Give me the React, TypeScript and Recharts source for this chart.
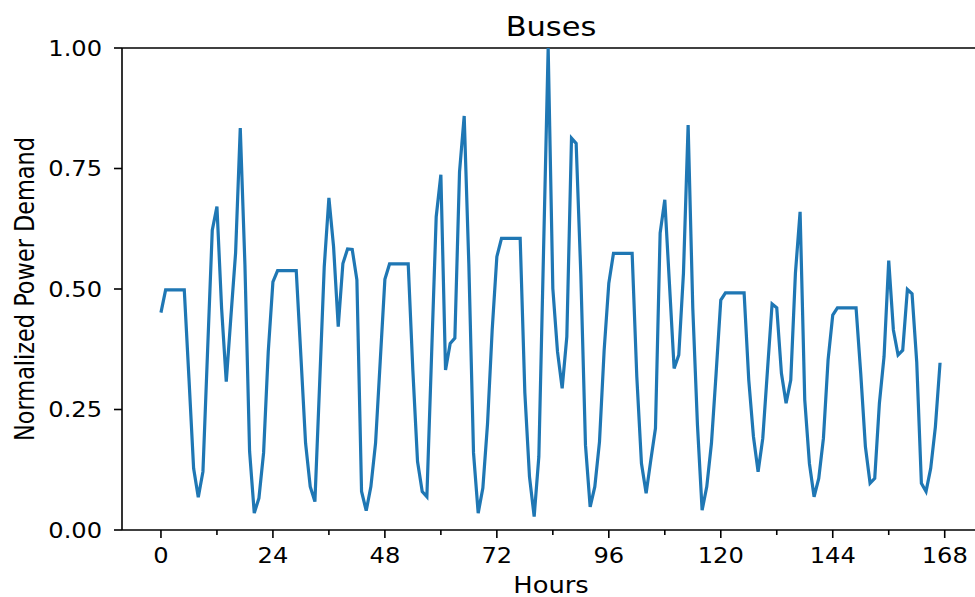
import React from 'react';
import { LineChart, Line, XAxis, YAxis, ReferenceLine } from 'recharts';

// hourly demand, one array per day
const day1 = [0.451, 0.498, 0.498, 0.498, 0.498, 0.498, 0.315, 0.128, 0.068, 0.121, 0.373, 0.622, 0.671, 0.46, 0.308, 0.443, 0.575, 0.834, 0.55, 0.163, 0.035, 0.066, 0.16, 0.37];
const day2 = [0.515, 0.538, 0.538, 0.538, 0.538, 0.538, 0.36, 0.18, 0.09, 0.059, 0.3, 0.546, 0.689, 0.588, 0.422, 0.553, 0.583, 0.582, 0.519, 0.08, 0.04, 0.09, 0.18, 0.35];
const day3 = [0.52, 0.552, 0.552, 0.552, 0.552, 0.552, 0.33, 0.142, 0.08, 0.069, 0.36, 0.65, 0.737, 0.332, 0.387, 0.398, 0.743, 0.859, 0.55, 0.16, 0.035, 0.087, 0.22, 0.415];
const day4 = [0.567, 0.605, 0.605, 0.605, 0.605, 0.605, 0.285, 0.11, 0.028, 0.152, 0.575, 1.0, 0.501, 0.37, 0.294, 0.401, 0.813, 0.802, 0.53, 0.176, 0.048, 0.09, 0.183, 0.373];
const day5 = [0.512, 0.574, 0.574, 0.574, 0.574, 0.574, 0.318, 0.138, 0.076, 0.145, 0.211, 0.616, 0.685, 0.51, 0.335, 0.363, 0.533, 0.84, 0.46, 0.218, 0.041, 0.09, 0.18, 0.325];
const day6 = [0.477, 0.492, 0.492, 0.492, 0.492, 0.492, 0.311, 0.194, 0.121, 0.19, 0.33, 0.469, 0.461, 0.325, 0.263, 0.311, 0.533, 0.66, 0.27, 0.138, 0.069, 0.107, 0.19, 0.353];
const day7 = [0.446, 0.461, 0.461, 0.461, 0.461, 0.461, 0.325, 0.173, 0.097, 0.107, 0.263, 0.36, 0.559, 0.415, 0.363, 0.373, 0.499, 0.49, 0.349, 0.097, 0.08, 0.128, 0.214, 0.347];

const xTicks = [0, 12, 24, 36, 48, 60, 72, 84, 96, 108, 120, 132, 144, 156, 168];
const yTicks = [0, 0.25, 0.5, 0.75, 1];

const demand = [...day1, ...day2, ...day3, ...day4, ...day5, ...day6, ...day7];
const data = demand.map((v, i) => ({ hour: i, value: v }));

const FONT = 'DejaVu Sans, sans-serif';
const STRETCH = 1.15; // the original figure is a bit wider than tall

const HourTick = ({ x, y, payload }: any) => {
  const major = payload.value % 24 === 0;
  return (
    <g>
      <line x1={x} x2={x} y1={y} y2={y + (major ? 8 : 5)} stroke="#000" strokeWidth={1.6} />
      {major && (
        <text
          transform={`translate(${x},${y + 33}) scale(${STRETCH},1)`}
          textAnchor="middle"
          fontSize={21}
          fontFamily={FONT}
          fill="#000"
        >
          {payload.value}
        </text>
      )}
    </g>
  );
};

const DemandTick = ({ x, y, payload }: any) => (
  <text
    transform={`translate(${x},${y}) scale(${STRETCH},1)`}
    dy="0.36em"
    textAnchor="end"
    fontSize={21}
    fontFamily={FONT}
    fill="#000"
  >
    {Number(payload.value).toFixed(2)}
  </text>
);

export default function App() {
  return (
    <div style={{ position: 'absolute', left: 0, top: 0, width: 975, height: 597, overflow: 'hidden', background: '#fff' }}>
      <LineChart width={985} height={597} data={data} margin={{ top: 48, right: 6, bottom: 0, left: 0 }}>
        <XAxis
          dataKey="hour"
          type="number"
          domain={[-8.35, 175.35]}
          ticks={xTicks}
          interval={0}
          height={67}
          tickLine={false}
          tickSize={0}
          tickMargin={0}
          tick={<HourTick />}
          axisLine={{ stroke: '#000', strokeWidth: 1.6 }}
          allowDataOverflow
        />
        <YAxis
          type="number"
          domain={[0, 1]}
          ticks={yTicks}
          width={122}
          tickSize={8}
          tickMargin={12}
          tick={<DemandTick />}
          tickLine={{ stroke: '#000', strokeWidth: 1.6 }}
          axisLine={{ stroke: '#000', strokeWidth: 1.6 }}
          allowDataOverflow
        />
        <ReferenceLine y={1} stroke="#000" strokeWidth={1.6} />
        <Line type="linear" dataKey="value" stroke="#1f77b4" strokeWidth={3.2} dot={false} isAnimationActive={false} />
      </LineChart>
      <div
        style={{
          position: 'absolute',
          left: 551,
          top: 27,
          transform: `translate(-50%, -50%) scaleX(${STRETCH})`,
          whiteSpace: 'nowrap',
          fontFamily: FONT,
          fontSize: 26.5,
          color: '#000',
          lineHeight: '30px',
        }}
      >
        Buses
      </div>
      <div
        style={{
          position: 'absolute',
          left: 551,
          top: 585,
          transform: `translate(-50%, -50%) scaleX(${STRETCH})`,
          whiteSpace: 'nowrap',
          fontFamily: FONT,
          fontSize: 22.4,
          color: '#000',
          lineHeight: '26px',
        }}
      >
        Hours
      </div>
      <div
        style={{
          position: 'absolute',
          left: 25,
          top: 289,
          transform: `translate(-50%, -50%) scaleX(${STRETCH}) rotate(-90deg)`,
          whiteSpace: 'nowrap',
          fontFamily: FONT,
          fontSize: 22.4,
          color: '#000',
          lineHeight: '26px',
        }}
      >
        Normalized Power Demand
      </div>
    </div>
  );
}
